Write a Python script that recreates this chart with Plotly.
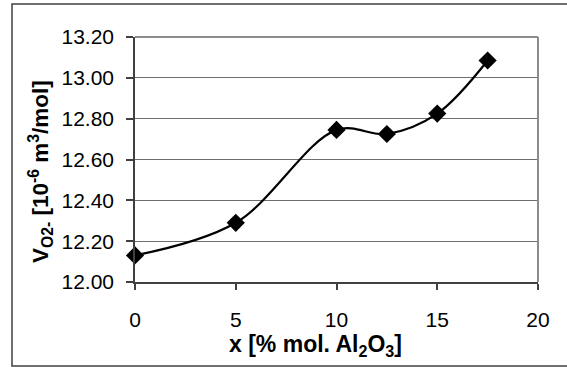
import plotly.graph_objects as go

x_vals = [0, 5, 10, 12.5, 15, 17.5]
y_vals = [12.13, 12.29, 12.745, 12.725, 12.825, 13.085]
y_ticks = [12.0, 12.2, 12.4, 12.6, 12.8, 13.0, 13.2]
x_ticks = [0, 5, 10, 15, 20]

W, H = 567, 367
L, R, T, B = 135, 29, 37, 85
pw, ph = W - L - R, H - T - B

def px(xp):
    return (xp - L) / pw

def py(yp):
    return (H - B - yp) / ph

fig = go.Figure()
fig.add_trace(go.Scatter(
    x=x_vals, y=y_vals, mode="lines+markers",
    line=dict(color="black", width=2.2, shape="spline", smoothing=1),
    marker=dict(symbol="diamond", size=14, color="black"),
    showlegend=False, cliponaxis=False,
))

font = dict(family="Liberation Sans, Arial", color="black")

fig.update_layout(
    width=W, height=H,
    margin=dict(l=L, r=R, t=T, b=B),
    paper_bgcolor="white", plot_bgcolor="white",
    xaxis=dict(
        range=[0, 20], tickvals=x_ticks, ticktext=[str(v) for v in x_ticks],
        ticks="outside", ticklen=6, tickcolor="#404040", tickwidth=1.5,
        showline=True, linecolor="#404040", linewidth=1.5,
        showgrid=False, zeroline=False,
        tickfont=dict(size=21, **font), ticklabelstandoff=12,
    ),
    yaxis=dict(
        range=[12.0, 13.2], tickvals=y_ticks, ticktext=[f"{v:.2f}" for v in y_ticks],
        ticks="outside", ticklen=7, tickcolor="#404040", tickwidth=1.5,
        showline=True, linecolor="#404040", linewidth=1.5,
        showgrid=True, gridcolor="#6e6e6e", gridwidth=1,
        zeroline=False,
        tickfont=dict(size=21, **font), ticklabelstandoff=8,
    ),
    shapes=[
        dict(type="rect", xref="paper", yref="paper",
             x0=px(12), x1=px(620), y0=py(366), y1=py(4),
             line=dict(color="#404040", width=1.5), layer="below"),
        dict(type="line", xref="paper", yref="paper",
             x0=0, x1=1, y0=1, y1=1, line=dict(color="#8c8c8c", width=2)),
        dict(type="line", xref="paper", yref="paper",
             x0=1, x1=1, y0=0, y1=1, line=dict(color="#8c8c8c", width=2)),
    ],
    annotations=[
        dict(xref="paper", yref="paper", x=px(40), y=py(172),
             text="<b>V<sub>O2-</sub> [10<sup>-6</sup> m<sup>3</sup>/mol]</b>",
             textangle=-90, showarrow=False, font=dict(size=22.5, **font),
             xanchor="center", yanchor="middle"),
        dict(xref="paper", yref="paper", x=px(315), y=py(345),
             text="<b>x [% mol. Al<sub>2</sub>O<sub>3</sub>]</b>",
             showarrow=False, font=dict(size=23, **font),
             xanchor="center", yanchor="middle"),
    ],
)

fig.write_html(
    "out.html",
    config={"displayModeBar": False},
    post_script="document.body.style.margin='0';document.body.style.overflow='hidden';",
)
